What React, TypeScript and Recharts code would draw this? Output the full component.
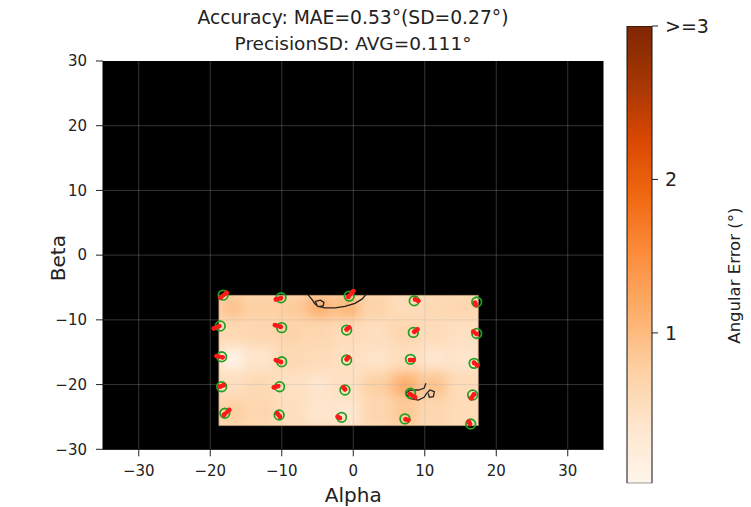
import React from 'react';
import {
  ScatterChart, Scatter, XAxis, YAxis, ReferenceArea, ReferenceLine,
  BarChart, Bar,
} from 'recharts';

// ---------- data ----------
const X_TICKS = [-30, -20, -10, 0, 10, 20, 30];
const Y_TICKS = [-30, -20, -10, 0, 10, 20, 30];
const GRID_X = [-30, -20, -10, 0, 10, 20, 30];
const GRID_Y = [-20, -10, 0, 10, 20];

// heat-map cell edges (data units) and angular-error values (deg), rows top -> bottom
const HEAT_X_EDGES = [-18.8, -14.77, -10.73, -6.7, -2.67, 1.37, 5.4, 9.43, 13.47, 17.5];
const HEAT_Y_EDGES = [-6.2, -10.23, -14.26, -18.29, -22.32, -26.35];
const HEAT_ROW_1 = [0.9, 0.75, 0.8, 1.1, 1.05, 0.7, 0.55, 0.6, 0.65];
const HEAT_ROW_2 = [0.6, 0.65, 0.7, 0.65, 0.55, 0.5, 0.65, 0.55, 0.45];
const HEAT_ROW_3 = [0.05, 0.35, 0.6, 0.55, 0.45, 0.4, 0.5, 0.35, 0.35];
const HEAT_ROW_4 = [0.5, 0.6, 0.45, 0.35, 0.45, 0.75, 1.15, 0.9, 0.55];
const HEAT_ROW_5 = [0.75, 0.65, 0.5, 0.35, 0.3, 0.65, 0.85, 0.65, 0.55];
const HEAT_BASE = 0.55;

// calibration targets (green rings)
const TARGETS = [
  [-18.2, -6.18], [-10.1, -6.59], [-0.56, -6.33], [8.53, -7.05], [17.27, -7.25],
  [-18.6, -10.95], [-10.01, -11.2], [-0.93, -11.58], [8.4, -11.94], [17.27, -12.1],
  [-18.4, -15.71], [-10.01, -16.48], [-0.93, -16.21], [8.0, -16.1], [16.9, -16.72],
  [-18.4, -20.33], [-10.3, -20.33], [-1.16, -20.84], [8.0, -21.35], [16.7, -21.6],
  [-17.96, -24.44], [-10.36, -24.7], [-1.63, -25.06], [7.23, -25.3], [16.43, -26.1],
];

// gaze estimates (red streaks: start x, start y, end x, end y)
const ESTIMATES = [
  [-18.56, -6.53, -17.72, -5.82], [-10.82, -6.84, -10.12, -6.64], [-0.7, -6.44, 0.0, -5.56],
  [8.64, -6.84, 9.1, -7.06], [17.03, -7.36, 17.17, -7.72],
  [-19.5, -11.32, -18.75, -10.96], [-10.96, -10.81, -10.16, -11.07], [-0.92, -11.47, -0.6, -11.16],
  [8.54, -11.84, 8.96, -11.47], [16.8, -11.84, 17.27, -12.2],
  [-19.12, -15.59, -18.28, -15.79], [-10.82, -16.21, -10.12, -16.52], [-0.92, -16.1, -0.7, -15.79],
  [7.94, -16.21, 8.4, -16.21], [16.89, -16.63, 17.36, -17.03],
  [-18.66, -20.33, -18.1, -20.07], [-11.1, -20.43, -10.5, -20.23], [-1.4, -20.43, -1.16, -20.74],
  [7.94, -21.46, 8.64, -21.97], [16.47, -22.12, 16.89, -21.51],
  [-18.1, -24.7, -17.35, -23.93], [-10.64, -24.44, -10.26, -24.96], [-2.18, -24.96, -1.86, -25.17],
  [7.33, -25.37, 7.7, -25.48], [16.15, -25.74, 16.33, -26.09],
];

// 1-degree contour lines
const CONTOUR_TOP = [
  [-6.34, -6.1], [-5.7, -6.95], [-5.4, -7.5], [-4.9, -7.95], [-4.2, -7.85], [-4.1, -7.3],
  [-4.6, -6.95], [-5.3, -7.15], [-5.0, -7.9], [-3.96, -8.15], [-2.56, -8.15], [-1.16, -7.9],
  [0.24, -7.45], [1.22, -6.8], [1.78, -6.1],
];
const CONTOUR_BOTTOM = [
  [10.17, -19.81], [9.9, -20.58], [9.1, -20.84], [7.94, -20.84], [7.38, -21.35], [7.84, -22.12],
  [9.1, -22.39], [9.9, -21.97], [10.27, -21.35], [10.73, -20.84], [11.34, -21.11], [11.2, -21.88],
  [10.64, -21.97], [10.5, -21.35],
];

// colour bar
const CB_DOMAIN = [0.02, 3];
const CB_TICKS = [1, 2, 3];
const CB_DATA = [{ name: 'err', v: 3 }];

const TITLE_1 = 'Accuracy: MAE=0.53°(SD=0.27°)';
const TITLE_2 = 'PrecisionSD: AVG=0.111°';

// ---------- helpers ----------
const ORANGES = ['#fff5eb', '#fee6ce', '#fdd0a2', '#fdae6b', '#fd8d3c', '#f16913', '#d94801', '#a63603', '#7f2704'];
const hex = (h: string) => [1, 3, 5].map((i) => parseInt(h.slice(i, i + 2), 16));
const orangeColor = (v: number) => {
  const t = Math.max(0, Math.min(1, v / 3)) * (ORANGES.length - 1);
  const i = Math.min(ORANGES.length - 2, Math.floor(t));
  const f = t - i;
  const a = hex(ORANGES[i]);
  const b = hex(ORANGES[i + 1]);
  const c = a.map((av, k) => Math.round(av + (b[k] - av) * f));
  return `rgb(${c[0]},${c[1]},${c[2]})`;
};
const fmt = (v: number) => (v < 0 ? `\u2212${Math.abs(v)}` : `${v}`);
const FONT = 'DejaVu Sans, sans-serif';
const TXT = '#222';

const HEAT_ROWS = [HEAT_ROW_1, HEAT_ROW_2, HEAT_ROW_3, HEAT_ROW_4, HEAT_ROW_5];
const HEAT_CELLS = HEAT_ROWS.flatMap((row, r) =>
  row.map((v, c) => ({
    x1: HEAT_X_EDGES[c], x2: HEAT_X_EDGES[c + 1], y1: HEAT_Y_EDGES[r + 1], y2: HEAT_Y_EDGES[r], v,
  })),
);
const targetData = TARGETS.map(([x, y]) => ({ x, y }));
const topContour = CONTOUR_TOP.map(([x, y]) => ({ x, y }));
const bottomContour = CONTOUR_BOTTOM.map(([x, y]) => ({ x, y }));

const ring = (p: any) => (
  <circle cx={p.cx} cy={p.cy} r={4.8} fill="none" stroke="#23a023" strokeWidth={1.8} />
);
const redDot = (p: any) => <circle cx={p.cx} cy={p.cy} r={2.4} fill="#ff1a1a" />;
const noDot = () => <g />;

export default function App() {
  return (
    <div style={{ position: 'absolute', left: 0, top: 0, width: 751, height: 507, background: '#fff' }}>
      <svg width={0} height={0} style={{ position: 'absolute' }}>
        <defs>
          <filter id="hmBlur" x="-60%" y="-60%" width="220%" height="220%">
            <feGaussianBlur stdDeviation="7" />
          </filter>
        </defs>
      </svg>

      <div style={{ position: 'absolute', left: 0, top: 0 }}>
        <ScatterChart width={751} height={507} margin={{ top: 61, right: 147.5, bottom: 0, left: 0 }}>
          <XAxis
            type="number" dataKey="x" domain={[-35, 35]} ticks={X_TICKS} allowDataOverflow
            tickFormatter={fmt} tickSize={7} tickMargin={9} height={57.7}
            tick={{ fontSize: 15, fill: TXT, fontFamily: FONT }}
            tickLine={{ stroke: TXT }} axisLine={{ stroke: '#000' }}
            label={(p: any) => {
              const vb = p.viewBox;
              return (
                <text x={vb.x + vb.width / 2} y={vb.y + vb.height - 5.5} textAnchor="middle"
                  fontSize={20} fill={TXT} fontFamily={FONT}>Alpha</text>
              );
            }}
          />
          <YAxis
            type="number" dataKey="y" domain={[-30, 30]} ticks={Y_TICKS} allowDataOverflow
            tickFormatter={fmt} tickSize={7} tickMargin={9} width={103}
            tick={{ fontSize: 15, fill: TXT, fontFamily: FONT }}
            tickLine={{ stroke: TXT }} axisLine={{ stroke: '#000' }}
            label={(p: any) => {
              const vb = p.viewBox;
              const cx = vb.x + 58;
              const cy = vb.y + vb.height / 2 + 3;
              return (
                <text x={cx} y={cy} textAnchor="middle" dominantBaseline="central"
                  transform={`rotate(-90 ${cx} ${cy})`} fontSize={20} fill={TXT} fontFamily={FONT}>Beta</text>
              );
            }}
          />

          <ReferenceArea x1={-35} x2={35} y1={-30} y2={30} fill="#000" fillOpacity={1} stroke="none" />

          <ReferenceArea
            x1={HEAT_X_EDGES[0]} x2={HEAT_X_EDGES[HEAT_X_EDGES.length - 1]}
            y1={HEAT_Y_EDGES[HEAT_Y_EDGES.length - 1]} y2={HEAT_Y_EDGES[0]}
            shape={(p: any) => (
              <g>
                <defs>
                  <clipPath id="hmClip">
                    <rect x={p.x} y={p.y} width={p.width} height={p.height} />
                  </clipPath>
                </defs>
                <rect x={p.x} y={p.y} width={p.width} height={p.height} fill={orangeColor(HEAT_BASE)} />
              </g>
            )}
          />
          {HEAT_CELLS.map((c, i) => (
            <ReferenceArea
              key={`hc${i}`} x1={c.x1} x2={c.x2} y1={c.y1} y2={c.y2}
              shape={(p: any) => (
                <rect x={p.x} y={p.y} width={p.width} height={p.height} fill={orangeColor(c.v)}
                  filter="url(#hmBlur)" clipPath="url(#hmClip)" />
              )}
            />
          ))}
          <ReferenceArea
            x1={HEAT_X_EDGES[0]} x2={HEAT_X_EDGES[HEAT_X_EDGES.length - 1]}
            y1={HEAT_Y_EDGES[HEAT_Y_EDGES.length - 1]} y2={HEAT_Y_EDGES[0]}
            fill="none" fillOpacity={0} stroke="#9a7a60" strokeOpacity={0.7} strokeWidth={0.8}
          />

          {GRID_X.map((g) => (
            <ReferenceLine key={`gx${g}`} x={g} stroke="#b0b0b0" strokeOpacity={0.3} strokeWidth={1} />
          ))}
          {GRID_Y.map((g) => (
            <ReferenceLine key={`gy${g}`} y={g} stroke="#b0b0b0" strokeOpacity={0.3} strokeWidth={1} />
          ))}

          <Scatter data={topContour} shape={noDot} line={{ stroke: '#222', strokeWidth: 1.3 }} isAnimationActive={false} />
          <Scatter data={bottomContour} shape={noDot} line={{ stroke: '#222', strokeWidth: 1.3 }} isAnimationActive={false} />
          <Scatter data={targetData} shape={ring} isAnimationActive={false} />
          {ESTIMATES.map(([x1, y1, x2, y2], i) => (
            <Scatter
              key={`est${i}`} data={[{ x: x1, y: y1 }, { x: x2, y: y2 }]} shape={redDot}
              line={{ stroke: '#ff1a1a', strokeWidth: 4.2, strokeLinecap: 'round' }}
              isAnimationActive={false}
            />
          ))}
        </ScatterChart>
      </div>

      <div style={{ position: 'absolute', left: 600, top: 0 }}>
        <BarChart width={151} height={507} data={CB_DATA} barCategoryGap={0}
          margin={{ top: 26, right: 0, bottom: 23.7, left: 27 }}>
          <defs>
            <linearGradient id="cbGrad" x1="0" y1="1" x2="0" y2="0">
              {ORANGES.map((c, i) => (
                <stop key={c} offset={`${(i / (ORANGES.length - 1)) * 100}%`} stopColor={c} />
              ))}
            </linearGradient>
          </defs>
          <XAxis dataKey="name" hide />
          <YAxis
            orientation="right" type="number" domain={CB_DOMAIN} ticks={CB_TICKS} allowDataOverflow
            tickFormatter={(v: number) => (v === 3 ? '>=3' : `${v}`)}
            width={99} tickSize={6} tickMargin={7} axisLine={false}
            tick={{ fontSize: 19, fill: TXT, fontFamily: FONT, textAnchor: 'start' }}
            tickLine={{ stroke: TXT }}
            label={(p: any) => {
              const vb = p.viewBox;
              const cx = vb.x + 83;
              const cy = vb.y + vb.height / 2 + 21;
              return (
                <text x={cx} y={cy} textAnchor="middle" dominantBaseline="central"
                  transform={`rotate(-90 ${cx} ${cy})`} fontSize={16.5} fill={TXT} fontFamily={FONT}>
                  Angular Error (°)
                </text>
              );
            }}
          />
          <Bar dataKey="v" fill="url(#cbGrad)" stroke="#111" strokeWidth={1} isAnimationActive={false} />
        </BarChart>
      </div>

      <svg width={751} height={60} style={{ position: 'absolute', left: 0, top: 0 }}>
        <text x={353} y={24} textAnchor="middle" fontSize={18.7} fill={TXT} fontFamily={FONT}>{TITLE_1}</text>
        <text x={353} y={50} textAnchor="middle" fontSize={18.5} fill={TXT} fontFamily={FONT}>{TITLE_2}</text>
      </svg>
    </div>
  );
}
